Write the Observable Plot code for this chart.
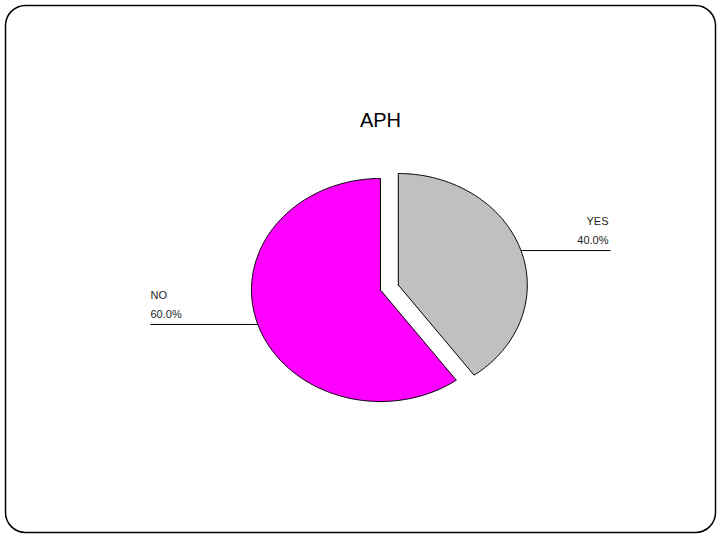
<!DOCTYPE html>
<html>
<head>
<meta charset="utf-8">
<script src="https://cdn.jsdelivr.net/npm/d3@7"></script>
<script src="https://cdn.jsdelivr.net/npm/@observablehq/plot@0.6"></script>
<style>
  html, body { margin: 0; padding: 0; background: #fff; }
  #chart svg { display: block; }
</style>
</head>
<body>
<div id="chart"></div>
<script>
// ---- data ----
const title = "APH";
const categories = ["YES", "NO"];
const values = [40, 60];
const colors = ["#C0C0C0", "#FF00FF"];
const explode = [0.145, 0];

// ---- build slices through d3.pie ----
const arcs = d3.pie().sort(null).value(d => d.value)(
  categories.map((c, i) => ({ category: c, value: values[i], color: colors[i], explode: explode[i] }))
);
const total = d3.sum(values);

const polyPoints = [];
const labels = [];
arcs.forEach(a => {
  const mid = (a.startAngle + a.endAngle) / 2;
  const ox = a.data.explode * Math.sin(mid);
  const oy = a.data.explode * Math.cos(mid);
  const n = Math.max(8, Math.round((a.endAngle - a.startAngle) * 60));
  polyPoints.push({ category: a.data.category, color: a.data.color, x: ox, y: oy });
  for (let k = 0; k <= n; k++) {
    const t = a.startAngle + (a.endAngle - a.startAngle) * k / n;
    polyPoints.push({ category: a.data.category, color: a.data.color, x: ox + Math.sin(t), y: oy + Math.cos(t) });
  }
  polyPoints.push({ category: a.data.category, color: a.data.color, x: ox, y: oy });
  const right = Math.sin(mid) >= 0;
  labels.push({
    category: a.data.category,
    pct: (100 * a.data.value / total).toFixed(1) + "%",
    x1: ox + Math.sin(mid), y1: oy + Math.cos(mid),
    x2: right ? 1.783 : -1.783,
    right
  });
});
const rightLabels = labels.filter(d => d.right);
const leftLabels = labels.filter(d => !d.right);
const labelFont = { fontSize: 11, fill: "#222" };

const chart = Plot.plot({
  width: 720,
  height: 540,
  margin: 0,
  x: { domain: [-1, 1], range: [251, 509], axis: null },
  y: { domain: [-1, 1], range: [401, 178], axis: null },
  style: { fontFamily: "Liberation Sans, Arial, sans-serif", background: "#fff" },
  marks: [
    Plot.frame({ rx: 20, insetTop: 5, insetLeft: 5, insetRight: 5, insetBottom: 8, stroke: "black", strokeWidth: 1.5 }),
    Plot.text([title], { x: () => 0, frameAnchor: "top", dy: 120, text: d => d, fontSize: 20, fill: "black", lineAnchor: "middle" }),
    Plot.line(polyPoints, { x: "x", y: "y", z: "category", fill: d => d.color, stroke: "black", strokeWidth: 1, curve: "linear" }),
    Plot.link(labels, { x1: "x1", y1: "y1", x2: "x2", y2: "y1", stroke: "black", strokeWidth: 1 }),
    Plot.text(rightLabels, { x: "x2", y: "y1", text: "category", textAnchor: "end", dx: -2, dy: -29, ...labelFont }),
    Plot.text(rightLabels, { x: "x2", y: "y1", text: "pct", textAnchor: "end", dx: -2, dy: -10, ...labelFont }),
    Plot.text(leftLabels, { x: "x2", y: "y1", text: "category", textAnchor: "start", dy: -29, ...labelFont }),
    Plot.text(leftLabels, { x: "x2", y: "y1", text: "pct", textAnchor: "start", dy: -10, ...labelFont })
  ]
});
document.getElementById("chart").append(chart);
</script>
</body>
</html>
